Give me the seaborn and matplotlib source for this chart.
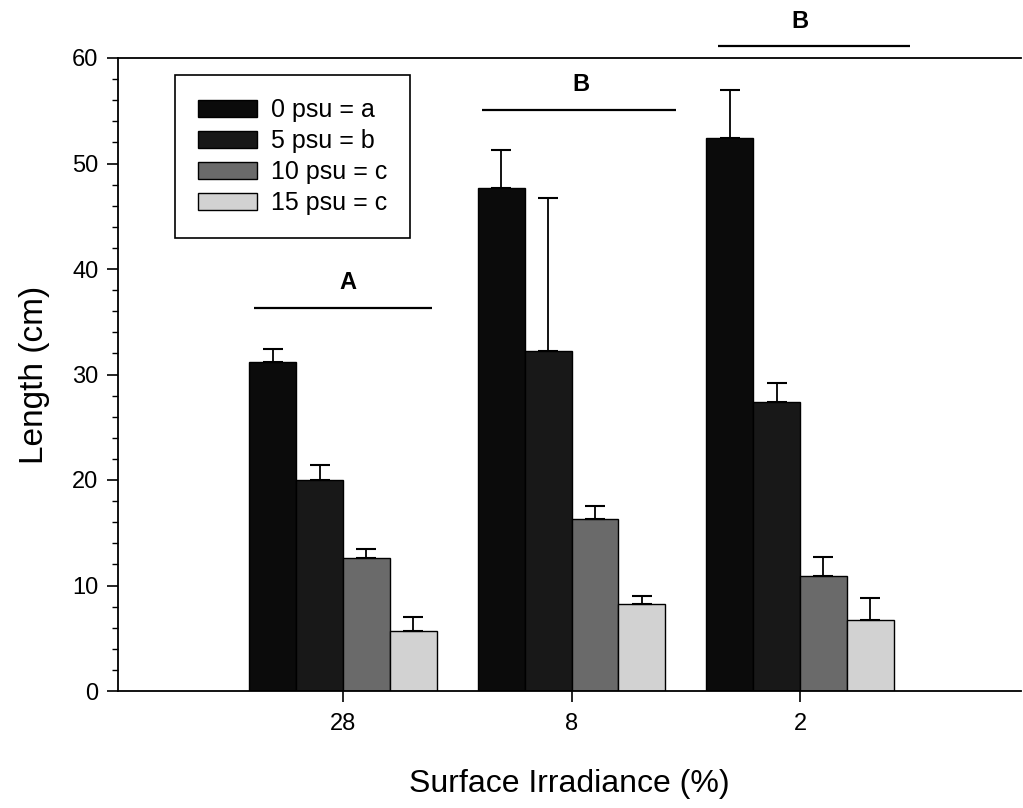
import matplotlib
matplotlib.use("Agg")
import matplotlib.pyplot as plt
from matplotlib.ticker import MultipleLocator
from matplotlib.patches import Patch
import seaborn as sns
import pandas as pd

# ---- data ----
irradiance = ["28", "8", "2"]
salinity = ["0 psu = a", "5 psu = b", "10 psu = c", "15 psu = c"]
length_0psu = [31.2, 47.7, 52.4]
length_5psu = [20.0, 32.2, 27.4]
length_10psu = [12.6, 16.3, 10.9]
length_15psu = [5.7, 8.2, 6.7]
err_0psu = [1.2, 3.6, 4.6]
err_5psu = [1.4, 14.5, 1.8]
err_10psu = [0.9, 1.2, 1.8]
err_15psu = [1.3, 0.8, 2.1]
group_letters = ["A", "B", "B"]
letter_line_y = [36.3, 55.1, 61.1]

means = [length_0psu, length_5psu, length_10psu, length_15psu]
errs = [err_0psu, err_5psu, err_10psu, err_15psu]
rows = []
for s, m_list, e_list in zip(salinity, means, errs):
    for g, m, e in zip(irradiance, m_list, e_list):
        rows.append({"Irradiance": g, "Salinity": s, "Length": m, "Err": e})
df = pd.DataFrame(rows)

colors = ["#0b0b0b", "#181818", "#6a6a6a", "#d2d2d2"]

sns.set_style("white")
plt.rcParams["font.family"] = ["Liberation Sans", "DejaVu Sans"]
plt.rcParams["text.color"] = "black"
plt.rcParams["axes.labelcolor"] = "black"
plt.rcParams["xtick.color"] = "black"
plt.rcParams["ytick.color"] = "black"

fig = plt.figure(figsize=(10.23, 8.08), dpi=100)
ax = fig.add_axes([118 / 1023, 1 - 691 / 808, (1021 - 118) / 1023, (691 - 58) / 808])

sns.barplot(data=df, x="Irradiance", y="Length", hue="Salinity",
            order=irradiance, hue_order=salinity, palette=colors,
            width=0.82, edgecolor="black", linewidth=1.0, ax=ax,
            errorbar=None, legend=False, saturation=1)

# error bars (upper only) from bar patches
for container, e_list in zip(ax.containers, errs):
    for patch, e in zip(container.patches, e_list):
        xc = patch.get_x() + patch.get_width() / 2
        h = patch.get_height()
        ax.errorbar(xc, h, yerr=[[0], [e]], fmt="none", ecolor="black",
                    elinewidth=1.3, capsize=7, capthick=1.5, zorder=3)

# significance lines and letters
line_extents = [(-0.39, 0.39), (-0.39, 0.455), (-0.36, 0.48)]
letter_x = [0.02, 0.04, 0.0]
for i, (letter, ly) in enumerate(zip(group_letters, letter_line_y)):
    x0, x1 = line_extents[i]
    ax.plot([i + x0, i + x1], [ly, ly], color="black", lw=1.6,
            clip_on=False, solid_capstyle="butt")
    ax.text(i + letter_x[i], ly + 1.3, letter, ha="center", va="bottom",
            fontsize=17, fontweight="bold", clip_on=False)

ax.set_xlim(-0.985, 2.967)
ax.set_ylim(0, 60)
ax.yaxis.set_major_locator(MultipleLocator(10))
ax.yaxis.set_minor_locator(MultipleLocator(2))

for side in ["left", "bottom", "top"]:
    ax.spines[side].set_visible(True)
    ax.spines[side].set_color("black")
    ax.spines[side].set_linewidth(1.3)
ax.spines["right"].set_visible(False)

ax.tick_params(axis="y", which="major", direction="out", length=8, width=1.2,
               labelsize=17, left=True, pad=6)
ax.tick_params(axis="y", which="minor", direction="out", length=4, width=1.0, left=True)
ax.tick_params(axis="x", which="major", direction="out", length=8, width=1.2,
               labelsize=17, bottom=True, pad=8)

ax.set_xlabel("Surface Irradiance (%)", fontsize=23, labelpad=24)
ax.set_ylabel("Length (cm)", fontsize=24, labelpad=16)

handles = [Patch(facecolor=c, edgecolor="black", linewidth=1.0) for c in colors]
leg = ax.legend(handles, salinity, loc="upper left",
                bbox_to_anchor=(175 / 1023, 1 - 75 / 808),
                bbox_transform=fig.transFigure, borderaxespad=0,
                fontsize=18, handlelength=2.36, handleheight=0.68,
                labelspacing=0.28, handletextpad=0.55, borderpad=0.92,
                frameon=True, fancybox=False, framealpha=1)
leg.get_frame().set_edgecolor("black")
leg.get_frame().set_linewidth(1.2)

fig.savefig("out.png", dpi=100)
